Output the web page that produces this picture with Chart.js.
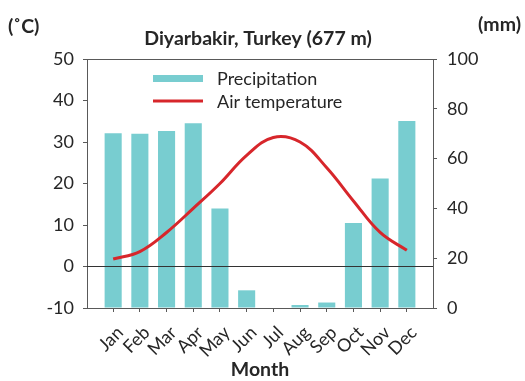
<!DOCTYPE html>
<html lang="en">
<head>
  <meta charset="UTF-8">
  <title>Diyarbakir climate chart</title>
  <style>
    body { margin: 0; background: #fff; }
    .chart-container { width: 525px; height: 381px; }
  </style>
  <script src="https://cdn.jsdelivr.net/npm/chart.js"></script>
</head>
<body>
  <div class="chart-container">
    <canvas id="myChart"></canvas>
  </div>

  <script>
    // monthly values
    const months = ['Jan', 'Feb', 'Mar', 'Apr', 'May', 'Jun', 'Jul', 'Aug', 'Sep', 'Oct', 'Nov', 'Dec'];
    const precipitation = [70.2, 70.0, 71.1, 74.2, 40.0, 7.1, 0, 1.2, 2.2, 34.1, 52.0, 75.1];   // mm
    const temperature = [1.8, 3.6, 8.2, 14.0, 20.0, 26.8, 31.1, 30.0, 23.8, 15.8, 8.2, 3.9];    // °C
    const tempTicks = [-10, 0, 10, 20, 30, 40, 50];
    const precipTicks = [0, 20, 40, 60, 80, 100];

    const textColor = '#262626';
    const axisColor = '#595959';
    const fontName = 'Lato, "Open Sans", sans-serif';

    // titles, units, top border, zero line and legend
    const decorations = {
      id: 'decorations',
      afterDatasetsDraw(chart) {
        const { ctx, chartArea: a, scales } = chart;
        ctx.save();
        // zero line over the bars
        const y0 = scales.y.getPixelForValue(0);
        ctx.strokeStyle = '#333';
        ctx.lineWidth = 1;
        ctx.beginPath();
        ctx.moveTo(a.left, y0);
        ctx.lineTo(a.right, y0);
        ctx.stroke();
        // top border
        ctx.strokeStyle = axisColor;
        ctx.beginPath();
        ctx.moveTo(a.left, a.top + 0.5);
        ctx.lineTo(a.right, a.top + 0.5);
        ctx.stroke();
        ctx.restore();
      },
      afterDraw(chart) {
        const { ctx, chartArea: a } = chart;
        ctx.save();
        ctx.fillStyle = textColor;
        ctx.textBaseline = 'middle';

        ctx.font = 'bold 19.5px ' + fontName;
        ctx.textAlign = 'center';
        ctx.fillText('Diyarbakir, Turkey (677 m)', 258, 39);

        ctx.textAlign = 'left';
        ctx.fillText('(˚C)', 8, 27);
        ctx.textAlign = 'right';
        ctx.fillText('(mm)', 521, 25);

        // legend
        const ds = chart.data.datasets;
        ctx.font = '18px ' + fontName;
        ctx.textAlign = 'left';
        ctx.fillStyle = ds[0].backgroundColor;
        ctx.fillRect(153, 75, 50, 7);
        ctx.fillStyle = textColor;
        ctx.fillText(ds[0].label, 217, 79);

        ctx.strokeStyle = ds[1].borderColor;
        ctx.lineWidth = 3;
        ctx.beginPath();
        ctx.moveTo(153, 101);
        ctx.lineTo(203, 101);
        ctx.stroke();
        ctx.fillText(ds[1].label, 217, 102);
        ctx.restore();
      }
    };

    const ctx = document.getElementById('myChart').getContext('2d');
    const myChart = new Chart(ctx, {
      type: 'bar',
      data: {
        labels: months.map((m, i) => i),
        datasets: [{
          type: 'bar',
          label: 'Precipitation',
          data: precipitation,
          yAxisID: 'y1',
          backgroundColor: '#78CDD0',
          borderWidth: 0,
          barPercentage: 0.64,
          categoryPercentage: 1,
          order: 1
        }, {
          type: 'line',
          label: 'Air temperature',
          data: temperature,
          yAxisID: 'y',
          borderColor: '#D7262B',
          borderWidth: 3,
          pointRadius: 0,
          tension: 0.4,
          fill: false,
          order: 0
        }]
      },
      options: {
        responsive: true,
        maintainAspectRatio: false,
        animation: false,
        layout: { padding: { top: 59, left: 0, right: 0, bottom: 0 } },
        plugins: {
          legend: { display: false },
          tooltip: { enabled: false }
        },
        scales: {
          x: {
            type: 'linear',
            offset: false,
            min: -0.98,
            max: 11.98,
            afterBuildTicks: (scale) => { scale.ticks = months.map((m, i) => ({ value: i })); },
            afterFit: (scale) => { scale.height = 73; },
            grid: { offset: false, drawOnChartArea: false, color: axisColor, tickLength: 4 },
            border: { color: axisColor },
            ticks: {
              autoSkip: false,
              minRotation: 45,
              maxRotation: 45,
              padding: 10,
              labelOffset: 7,
              color: textColor,
              font: { family: fontName, size: 18 },
              callback: (value) => months[value]
            },
            title: {
              display: true,
              text: 'Month',
              color: textColor,
              padding: { top: 0, bottom: 0 },
              font: { family: fontName, size: 19.5, weight: 'bold' }
            }
          },
          y: {
            position: 'left',
            min: -10,
            max: 50,
            afterBuildTicks: (scale) => { scale.ticks = tempTicks.map(v => ({ value: v })); },
            afterFit: (scale) => { scale.width = 87; },
            grid: { drawOnChartArea: false, color: axisColor, tickLength: 4 },
            border: { color: axisColor },
            ticks: {
              padding: 9,
              color: textColor,
              font: { family: fontName, size: 18 }
            }
          },
          y1: {
            position: 'right',
            min: 0,
            max: 100,
            afterBuildTicks: (scale) => { scale.ticks = precipTicks.map(v => ({ value: v })); },
            afterFit: (scale) => { scale.width = 92; },
            grid: { drawOnChartArea: false, color: axisColor, tickLength: 4 },
            border: { color: axisColor },
            ticks: {
              padding: 10,
              color: textColor,
              font: { family: fontName, size: 18 }
            }
          }
        }
      },
      plugins: [decorations]
    });
  </script>
</body>
</html>
